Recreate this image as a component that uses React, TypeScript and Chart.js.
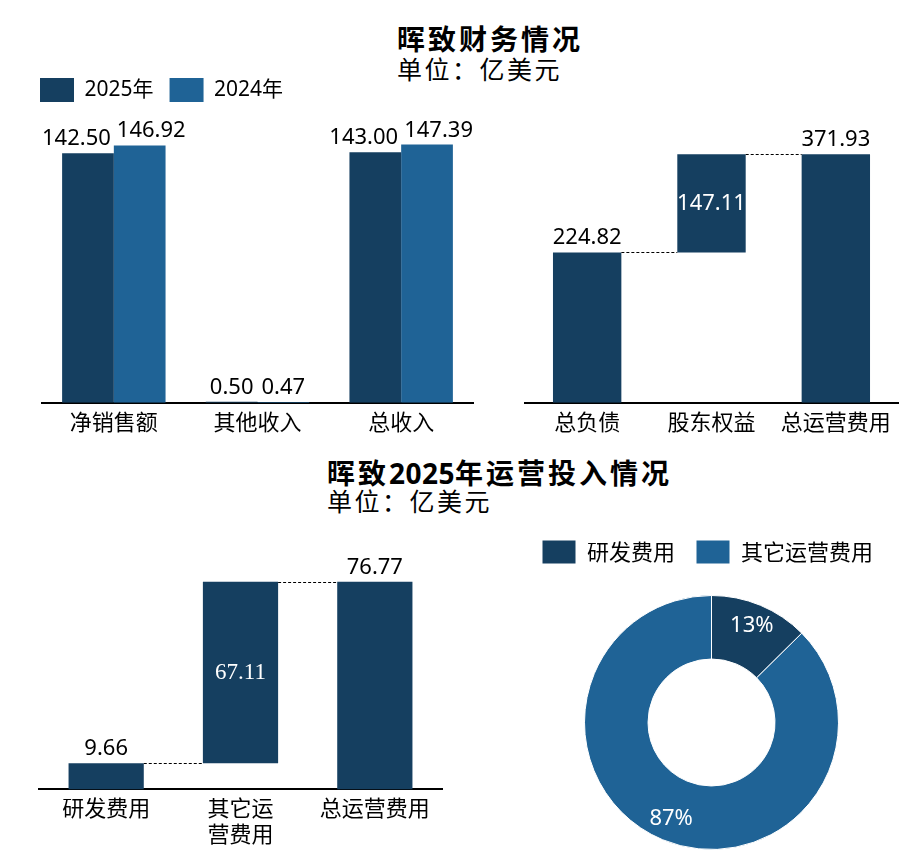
import { useEffect, useRef } from "react";
import { Chart, registerables, type ChartConfiguration, type Plugin } from "chart.js";

Chart.register(...registerables);

const CJK = '"Noto Sans CJK SC", sans-serif';
const NUM = '"Noto Sans", "Noto Sans CJK SC", sans-serif';
Chart.defaults.font.family = CJK;
Chart.defaults.color = "#000";

const NAVY = "#153f60";
const BLUE = "#1f6396";

/* data */
const revenueCategories = ["净销售额", "其他收入", "总收入"];
const revenue2025 = [142.5, 0.5, 143.0];
const revenue2024 = [146.92, 0.47, 147.39];
const revenueSeries = ["2025年", "2024年"];

const balanceCategories = ["总负债", "股东权益", "总运营费用"];
const balanceValues = [224.82, 147.11, 371.93];

const opexCategories = [["研发费用"], ["其它运", "营费用"], ["总运营费用"]];
const opexValues = [9.66, 67.11, 76.77];

const shareLabels = ["研发费用", "其它运营费用"];
const shareValues = [opexValues[0], opexValues[1]];

/* waterfall: step, step, total */
const toWaterfall = (v: number[]) => [
  [0, v[0]],
  [v[0], v[0] + v[1]],
  [0, v[2]],
];

const LABEL_FONT = `22px ${NUM}`;

type BarLabel = { text: string; inside?: boolean; color?: string; font?: string; spread?: number };

function barLabels(get: (ds: number, i: number) => BarLabel | null): Plugin<"bar"> {
  return {
    id: "barLabels",
    afterDatasetsDraw(chart) {
      const { ctx } = chart;
      ctx.save();
      ctx.textAlign = "center";
      chart.data.datasets.forEach((_, ds) => {
        chart.getDatasetMeta(ds).data.forEach((bar, i) => {
          const spec = get(ds, i);
          if (!spec) return;
          const { x, y, base, width } = bar.getProps(["x", "y", "base", "width"], true) as any;
          ctx.font = spec.font ?? LABEL_FONT;
          ctx.fillStyle = spec.color ?? "#000";
          let dx = 0;
          const tw = ctx.measureText(spec.text).width;
          if (spec.spread && tw > width) dx = spec.spread * ((tw - width) / 2 + 3);
          if (spec.inside) {
            ctx.textBaseline = "middle";
            ctx.fillText(spec.text, x + dx, (y + base) / 2);
          } else {
            ctx.textBaseline = "alphabetic";
            ctx.fillText(spec.text, x + dx, Math.min(y, base) - 8);
          }
        });
      });
      ctx.restore();
    },
  };
}

const connectors: Plugin<"bar"> = {
  id: "connectors",
  afterDatasetsDraw(chart) {
    const { ctx } = chart;
    const bars = chart.getDatasetMeta(0).data;
    ctx.save();
    ctx.setLineDash([3, 2]);
    ctx.lineWidth = 1;
    ctx.strokeStyle = "#000";
    for (let i = 0; i < bars.length - 1; i++) {
      const a = bars[i].getProps(["x", "y", "width"], true) as any;
      const b = bars[i + 1].getProps(["x", "width"], true) as any;
      const yy = Math.round(a.y) + 0.5;
      ctx.beginPath();
      ctx.moveTo(a.x + a.width / 2, yy);
      ctx.lineTo(b.x - b.width / 2, yy);
      ctx.stroke();
    }
    ctx.restore();
  },
};

const sliceLabels: Plugin<"doughnut"> = {
  id: "sliceLabels",
  afterDatasetsDraw(chart) {
    const { ctx } = chart;
    const values = chart.data.datasets[0].data as number[];
    const total = values.reduce((a, b) => a + b, 0);
    ctx.save();
    ctx.font = LABEL_FONT;
    ctx.fillStyle = "#fff";
    ctx.textAlign = "center";
    ctx.textBaseline = "middle";
    chart.getDatasetMeta(0).data.forEach((arc, i) => {
      const p = arc.getProps(["x", "y", "startAngle", "endAngle", "innerRadius", "outerRadius"], true) as any;
      const mid = (p.startAngle + p.endAngle) / 2;
      const r = p.innerRadius + (p.outerRadius - p.innerRadius) * 0.65;
      ctx.fillText(`${Math.round((values[i] / total) * 100)}%`, p.x + Math.cos(mid) * r, p.y + Math.sin(mid) * r);
    });
    ctx.restore();
  },
};

/* push the plot below the legend */
function legendGap(extra: number): Plugin {
  return {
    id: "legendGap",
    beforeLayout(chart) {
      const lg = chart.legend as any;
      if (!lg || lg._gap) return;
      const fit = lg.fit;
      lg.fit = function () {
        fit.call(this);
        this.height += extra;
      };
      lg._gap = true;
    },
  };
}

const xAxis = (padding = 6) => ({
  grid: { display: false, drawTicks: false },
  border: { display: true, color: "#000", width: 2 },
  ticks: { color: "#000", padding, font: { family: CJK, size: 22, lineHeight: 1.15 } },
});

const legendLabels = (padding: number, size: number) => ({
  boxWidth: 34,
  boxHeight: 24,
  padding,
  color: "#000",
  font: { family: NUM, size },
});

const revenueConfig: ChartConfiguration<"bar"> = {
  type: "bar",
  data: {
    labels: revenueCategories,
    datasets: [
      { label: revenueSeries[0], data: revenue2025, backgroundColor: NAVY, categoryPercentage: 0.72, barPercentage: 1 },
      { label: revenueSeries[1], data: revenue2024, backgroundColor: BLUE, categoryPercentage: 0.72, barPercentage: 1 },
    ],
  },
  options: {
    responsive: false,
    animation: false,
    events: [],
    layout: { padding: { left: 24, right: 17, top: 0, bottom: 2 } },
    plugins: {
      legend: { position: "top", align: "start", labels: legendLabels(16, 21) },
      tooltip: { enabled: false },
    },
    scales: {
      x: xAxis(),
      y: {
        min: 0,
        max: 166,
        ticks: { display: false },
        grid: { display: false },
        border: { display: false },
        afterFit: (s: any) => {
          s.width = 18;
        },
      },
    },
  },
  plugins: [
    barLabels((ds, i) => ({
      text: (ds === 0 ? revenue2025 : revenue2024)[i].toFixed(2),
      spread: ds === 0 ? -1 : 1,
    })),
  ],
};

const balanceConfig: ChartConfiguration<"bar"> = {
  type: "bar",
  data: {
    labels: balanceCategories,
    datasets: [
      {
        data: toWaterfall(balanceValues) as any,
        backgroundColor: NAVY,
        categoryPercentage: 0.55,
        barPercentage: 1,
      },
    ],
  },
  options: {
    responsive: false,
    animation: false,
    events: [],
    layout: { padding: { left: 10, right: 6, top: 12, bottom: 2 } },
    plugins: { legend: { display: false }, tooltip: { enabled: false } },
    scales: {
      x: xAxis(),
      y: { display: false, min: 0, max: 420 },
    },
  },
  plugins: [
    connectors,
    barLabels((_, i) =>
      i === 1
        ? { text: balanceValues[i].toFixed(2), inside: true, color: "#fff" }
        : { text: balanceValues[i].toFixed(2) }
    ),
  ],
};

const opexConfig: ChartConfiguration<"bar"> = {
  type: "bar",
  data: {
    labels: opexCategories,
    datasets: [
      {
        data: toWaterfall(opexValues) as any,
        backgroundColor: NAVY,
        categoryPercentage: 0.56,
        barPercentage: 1,
      },
    ],
  },
  options: {
    responsive: false,
    animation: false,
    events: [],
    layout: { padding: { left: 39, right: 18, top: 16, bottom: 3 } },
    plugins: { legend: { display: false }, tooltip: { enabled: false } },
    scales: {
      x: xAxis(),
      y: { display: false, min: 0, max: 90 },
    },
  },
  plugins: [
    connectors,
    barLabels((_, i) =>
      i === 1
        ? { text: opexValues[i].toFixed(2), inside: true, color: "#fff", font: `23px "Liberation Serif", serif` }
        : { text: opexValues[i].toFixed(2) }
    ),
  ],
};

const shareConfig: ChartConfiguration<"doughnut"> = {
  type: "doughnut",
  data: {
    labels: shareLabels,
    datasets: [
      {
        data: shareValues,
        backgroundColor: [NAVY, BLUE],
        borderColor: "#fff",
        borderWidth: 1,
      },
    ],
  },
  options: {
    responsive: false,
    animation: false,
    events: [],
    cutout: "50%",
    layout: { padding: { left: 0, right: 0, top: 0, bottom: 5 } },
    plugins: {
      legend: {
        position: "top",
        align: "start",
        labels: { ...legendLabels(21, 22), font: { family: CJK, size: 22 } },
      },
      tooltip: { enabled: false },
    },
  },
  plugins: [legendGap(21), sliceLabels],
};

function ChartBox({
  config,
  left,
  top,
  width,
  height,
}: {
  config: ChartConfiguration<any>;
  left: number;
  top: number;
  width: number;
  height: number;
}) {
  const ref = useRef<HTMLCanvasElement>(null);
  useEffect(() => {
    if (!ref.current) return;
    const chart = new Chart(ref.current, config);
    return () => chart.destroy();
  }, [config]);
  return (
    <canvas
      ref={ref}
      width={width}
      height={height}
      style={{ position: "absolute", left, top, width, height }}
    />
  );
}

const titleStyle = (left: number, top: number): React.CSSProperties => ({
  position: "absolute",
  left,
  top,
  fontFamily: NUM,
  fontWeight: 700,
  fontSize: 28,
  lineHeight: "28px",
  letterSpacing: 3,
  whiteSpace: "nowrap",
  color: "#000",
});

const unitStyle = (left: number, top: number): React.CSSProperties => ({
  position: "absolute",
  left,
  top,
  fontFamily: CJK,
  fontSize: 25,
  lineHeight: "25px",
  letterSpacing: 2.5,
  whiteSpace: "nowrap",
  color: "#000",
});

export default function App() {
  return (
    <div
      style={{
        position: "absolute",
        left: 0,
        top: 0,
        width: 904,
        height: 855,
        background: "#fff",
        overflow: "hidden",
      }}
    >
      <div style={titleStyle(397, 25)}>晖致财务情况</div>
      <div style={unitStyle(397, 56)}>单位：亿美元</div>
      <div style={titleStyle(327, 459)}>
        晖致<span style={{ letterSpacing: 0.5 }}>2025</span>年运营投入情况
      </div>
      <div style={unitStyle(327, 488)}>单位：亿美元</div>
      <ChartBox config={revenueConfig} left={0} top={62} width={490} height={380} />
      <ChartBox config={balanceConfig} left={515} top={110} width={389} height={332} />
      <ChartBox config={opexConfig} left={0} top={530} width={460} height={325} />
      <ChartBox config={shareConfig} left={521} top={519} width={381} height={336} />
    </div>
  );
}
